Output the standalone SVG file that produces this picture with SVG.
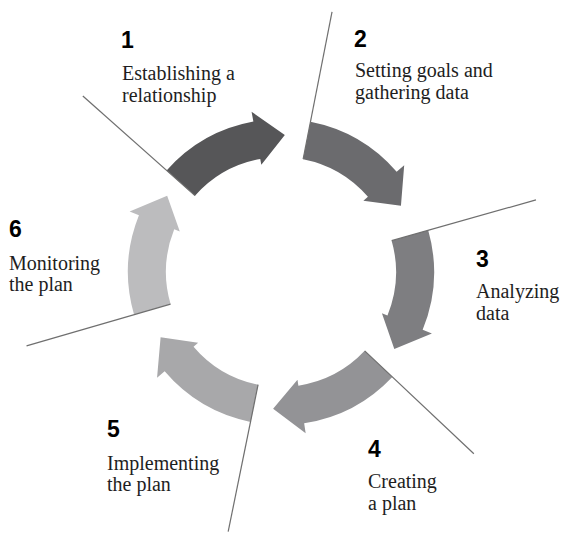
<svg xmlns="http://www.w3.org/2000/svg" xmlns:xlink="http://www.w3.org/1999/xlink" width="561" height="536" viewBox="0 0 561 536">
  <style>
    .num { font-family: "Liberation Sans", Arial, sans-serif; font-weight: bold; font-size: 23px; fill: #000; }
    .lbl { font-family: "Liberation Serif", "Times New Roman", serif; font-size: 20px; fill: #1e1e1e; }
    .div { stroke: #6f6f6f; stroke-width: 1.2; fill: none; }
  </style>
  <defs>
    <!-- one curved block arrow, tail on the +x axis, sweeping clockwise about the origin -->
    <path id="arc" d="M153,0 A153,153 0 0 1 120.57,94.20 L128.45,100.35 L88.06,104.95 L85.89,67.11 L90.62,70.80 A115,115 0 0 0 115,0 Z"/>
    <line id="ray" x1="115" y1="0" x2="265" y2="0"/>
  </defs>

  <g id="step1">
    <use xlink:href="#arc" transform="translate(281 272) rotate(221.6)" fill="#565658"/>
    <text class="num" x="121" y="48">1</text>
    <text class="lbl" x="122" y="80">Establishing a</text>
    <text class="lbl" x="122" y="102">relationship</text>
  </g>
  <g id="step2">
    <use xlink:href="#arc" transform="translate(281 272) rotate(281.1)" fill="#6b6b6e"/>
    <text class="num" x="354" y="47">2</text>
    <text class="lbl" x="355" y="77">Setting goals and</text>
    <text class="lbl" x="355" y="99">gathering data</text>
  </g>
  <g id="step3">
    <use xlink:href="#arc" transform="translate(281 272) rotate(344.2)" fill="#7e7e81"/>
    <text class="num" x="476" y="267">3</text>
    <text class="lbl" x="476" y="298">Analyzing</text>
    <text class="lbl" x="476" y="320">data</text>
  </g>
  <g id="step4">
    <use xlink:href="#arc" transform="translate(281 272) rotate(43.3)" fill="#939396"/>
    <text class="num" x="368" y="457">4</text>
    <text class="lbl" x="368" y="488">Creating</text>
    <text class="lbl" x="368" y="510">a plan</text>
  </g>
  <g id="step5">
    <use xlink:href="#arc" transform="translate(281 272) rotate(101.5)" fill="#a8a8aa"/>
    <text class="num" x="107" y="437">5</text>
    <text class="lbl" x="107" y="470">Implementing</text>
    <text class="lbl" x="107" y="491">the plan</text>
  </g>
  <g id="step6">
    <use xlink:href="#arc" transform="translate(281 272) rotate(163.8)" fill="#bcbcbe"/>
    <text class="num" x="9" y="237">6</text>
    <text class="lbl" x="9" y="270">Monitoring</text>
    <text class="lbl" x="9" y="291">the plan</text>
  </g>

  <!-- divider rays between the steps -->
  <g id="connectors" class="div">
    <use xlink:href="#ray" transform="translate(281 272) rotate(221.6)"/>
    <use xlink:href="#ray" transform="translate(281 272) rotate(281.1)"/>
    <use xlink:href="#ray" transform="translate(281 272) rotate(344.2)"/>
    <use xlink:href="#ray" transform="translate(281 272) rotate(43.3)"/>
    <use xlink:href="#ray" transform="translate(281 272) rotate(101.5)"/>
    <use xlink:href="#ray" transform="translate(281 272) rotate(163.8)"/>
  </g>
</svg>
